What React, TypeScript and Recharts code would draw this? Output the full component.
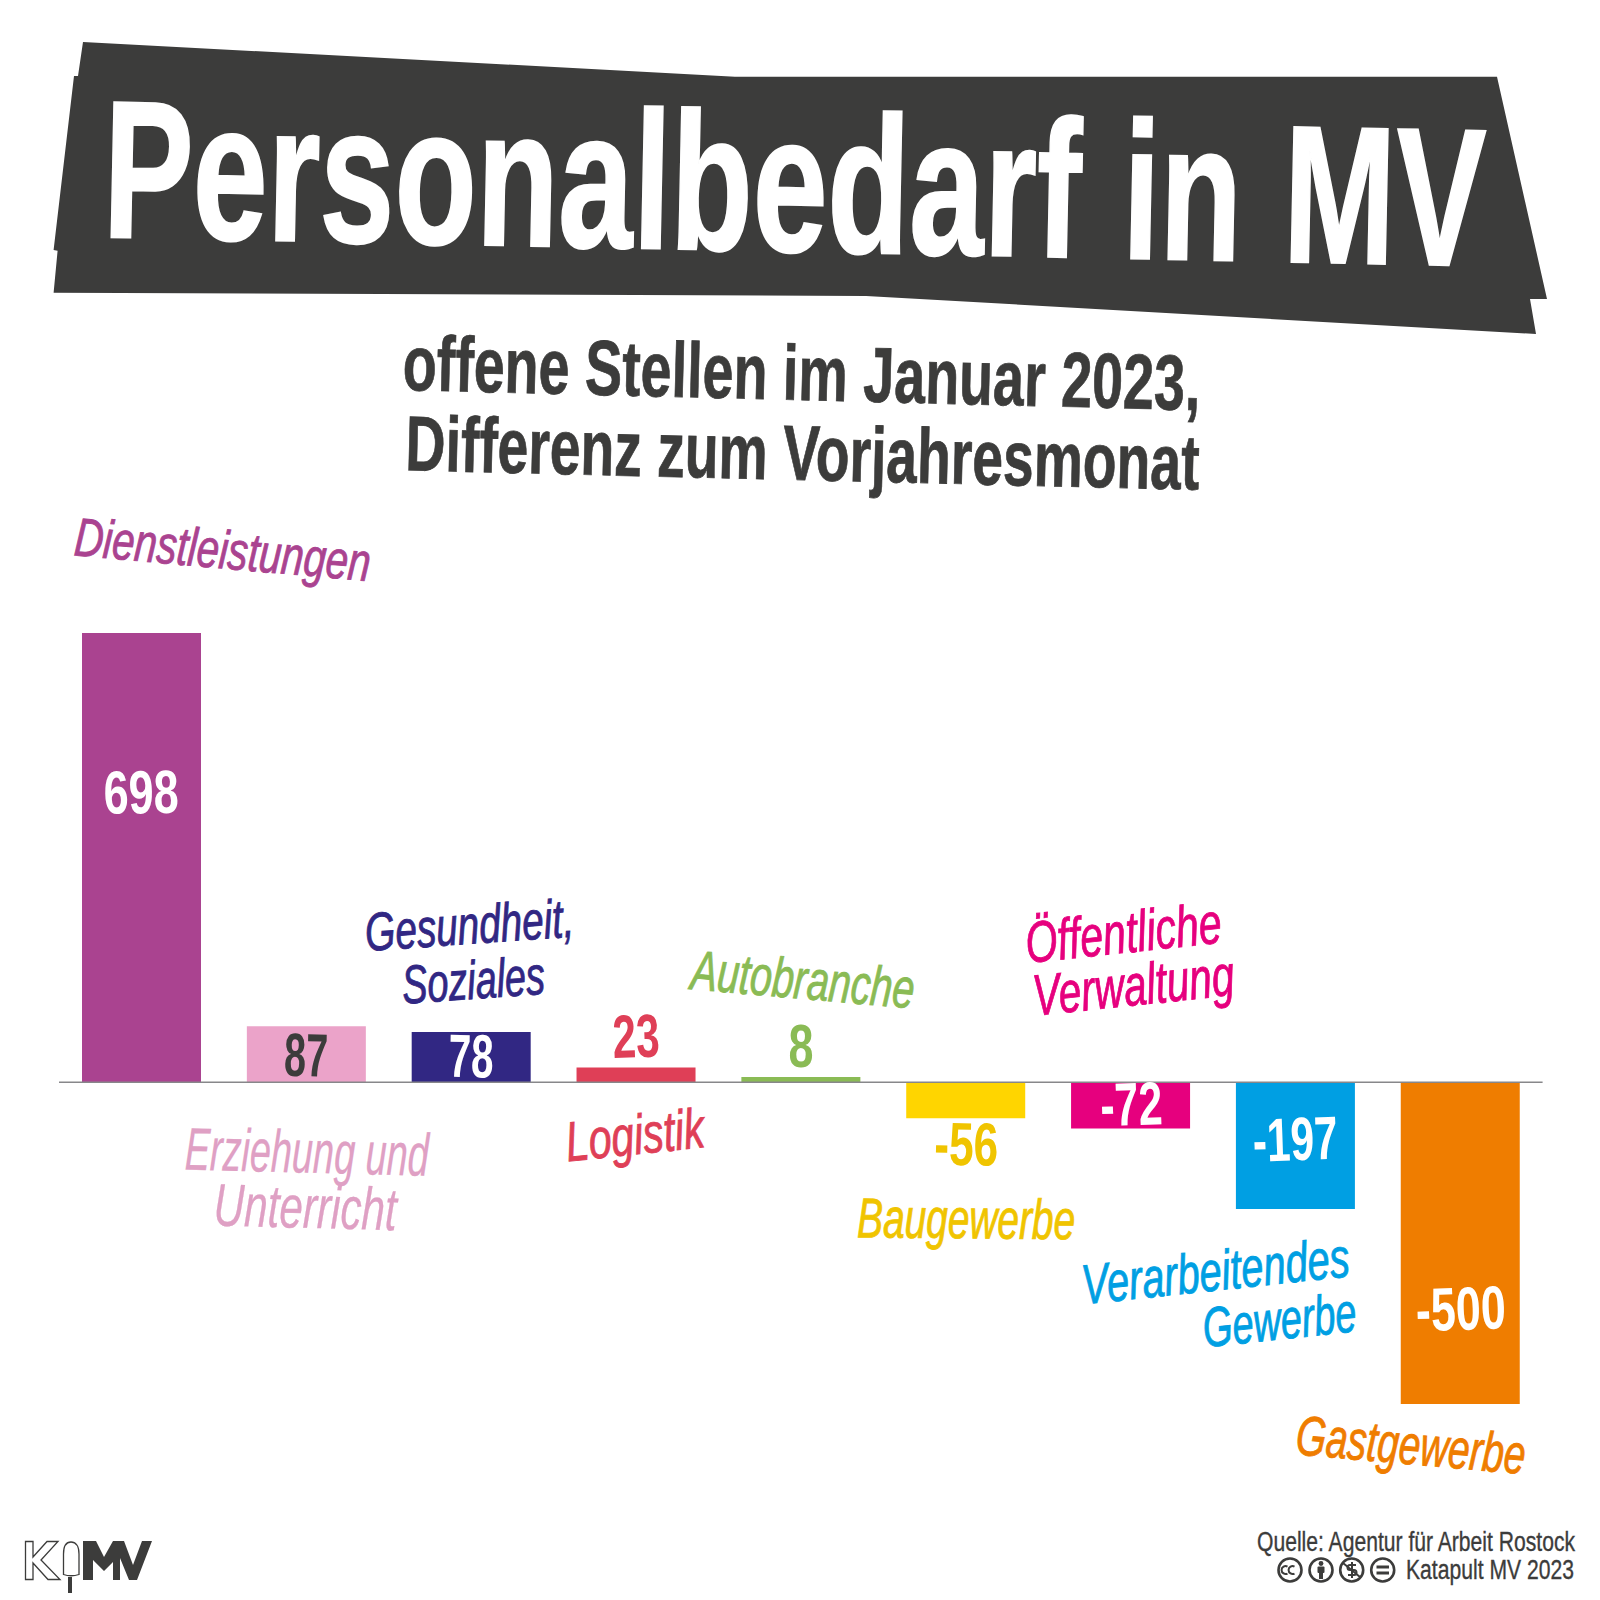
import React from "react";
import { BarChart, Bar, Cell, XAxis, YAxis, ReferenceLine, LabelList } from "recharts";

const categories = ["Dienstleistungen", "Erziehung und Unterricht", "Gesundheit, Soziales", "Logistik", "Autobranche", "Baugewerbe", "Öffentliche Verwaltung", "Verarbeitendes Gewerbe", "Gastgewerbe"];
const values = [698, 87, 78, 23, 8, -56, -72, -197, -500];
const labelLines = [["Dienstleistungen"], ["Erziehung und", "Unterricht"], ["Gesundheit,", "Soziales"], ["Logistik"], ["Autobranche"], ["Baugewerbe"], ["Öffentliche", "Verwaltung"], ["Verarbeitendes", "Gewerbe"], ["Gastgewerbe"]];
const barColors = ["#AA4390", "#EBA3C9", "#312783", "#DF3F57", "#8ABB55", "#FFD500", "#E6007E", "#009FE3", "#EF7D00"];
const labelColors = ["#AA4390", "#DFA0C4", "#312783", "#DF3F57", "#8ABB55", "#F0C400", "#E6007E", "#009FE3", "#EF7D00"];
const valueColors = ["#FFFFFF", "#3C3C3B", "#FFFFFF", "#DF3F57", "#8ABB55", "#F0C400", "#FFFFFF", "#FFFFFF", "#FFFFFF"];

const rows = categories.map((name, i) => ({ name, value: values[i] }));

const DARK = "#3C3C3B";
const FONT = "'Liberation Sans Narrow', 'Liberation Sans', sans-serif";

// [dx from bar centre, dy from zero line, drawn width, rotation] per text line
const labelLayout: number[][][] = [
  [[79.6, -514, 297, 5]],
  [[0, 90.5, 244, 1.5], [-1.6, 145.6, 183, 1.5]],
  [[-0.6, -138.5, 209, -4], [3.4, -83.5, 143, -4]],
  [[0.8, 72, 139, -6]],
  [[0.4, -83.5, 224, 5]],
  [[0.3, 156, 218, 0.5]],
  [[-5.2, -129.5, 197, -6], [5, -77, 202, -6]],
  [[-78, 208, 269, -6], [-14, 257, 154, -6]],
  [[-51, 382, 230, 5]],
];
const labelSizes = [54, 60, 54, 56, 56, 56, 58, 56, 56];
const valueLayout = [
  [0, -269, 75, -1], [-0.6, -6, 44, 1], [-0.5, -5, 45, 1], [0.7, -25, 47, -2], [0.2, -15, 25, 0],
  [0.2, 83, 64, 1], [1.5, 43, 62, -2], [0.5, 78, 85, -2], [1.2, 247.5, 90, -2],
];

function Tilt({ x, y, w, size, rot, fill, weight = 700, italic = false, stroke = 0, wordSpacing = 0, children }: any) {
  return (
    <text x={x} y={y} textAnchor="middle" fontFamily={FONT} fontSize={size} fontWeight={weight} fontStyle={italic ? "italic" : "normal"}
      wordSpacing={wordSpacing} fill={fill} stroke={stroke ? fill : "none"} strokeWidth={stroke} textLength={w} lengthAdjust="spacingAndGlyphs" transform={`rotate(${rot} ${x} ${y})`}>{children}</text>
  );
}

function BarLabels(props: any) {
  const { x, y, width, height, index } = props;
  const cx = x + width / 2;
  const zero = values[index] >= 0 ? Math.max(y, y + height) : Math.min(y, y + height);
  const [vdx, vdy, vw, vr] = valueLayout[index];
  return (
    <g>
      <Tilt x={cx + vdx} y={zero + vdy} w={vw} size={61} rot={vr} fill={valueColors[index]}>{String(values[index])}</Tilt>
      {labelLines[index].map((line, j) => {
        const [dx, dy, w, r] = labelLayout[index][j];
        return <Tilt key={line} x={cx + dx} y={zero + dy} w={w} size={labelSizes[index]} rot={r} fill={labelColors[index]} weight={400} italic stroke={index === 1 ? 0.3 : 0.9}>{line}</Tilt>;
      })}
    </g>
  );
}

function Overlay() {
  return (
    <svg width={1600} height={1600} style={{ position: "absolute", left: 0, top: 0, pointerEvents: "none" }}>
      <polygon fill={DARK} points="83,42 735,76.7 1497,76.7 1547,299 1530,299 1536,334 866,296 53.6,292.7 57.6,250.7 53.6,250 74,76 78,76" />
      <Tilt x={793} y={251.4} w={1382} size={196} rot={1.2} fill="#FFFFFF" stroke={2} wordSpacing={6}>Personalbedarf in MV</Tilt>
      <Tilt x={801} y={400} w={798} size={78} rot={1.45} fill={DARK} stroke={0.8}>offene Stellen im Januar 2023,</Tilt>
      <Tilt x={802} y={480} w={794} size={78} rot={1.4} fill={DARK} stroke={0.8}>Differenz zum Vorjahresmonat</Tilt>
      <Tilt x={1416} y={1550.7} w={318} size={27} rot={0} fill={DARK} weight={400} stroke={0.35}>Quelle: Agentur für Arbeit Rostock</Tilt>
      <Tilt x={1490} y={1579} w={168} size={27} rot={0} fill={DARK} weight={400} stroke={0.35}>Katapult MV 2023</Tilt>
      <g fill="none" stroke={DARK} strokeWidth={2.6}>
        <circle cx={1290} cy={1570} r={11.5} />
        <circle cx={1321} cy={1570} r={11.5} />
        <circle cx={1351.7} cy={1570} r={11.5} />
        <circle cx={1382.7} cy={1570} r={11.5} />
        <path d="M1295 1566.5a4 4 0 1 0 0 7M1288 1566.5a4 4 0 1 0 0 7" transform="translate(-0.5 0)" strokeWidth={2} />
        <path d="M1343 1563l17 14" strokeWidth={2} />
        <path d="M1356 1565h-6a2.5 2.5 0 0 0 0 5h4a2.5 2.5 0 0 1 0 5h-6M1352 1562v16" strokeWidth={2} />
      </g>
      <g fill={DARK}>
        <circle cx={1321} cy={1563.5} r={2.4} />
        <rect x={1317.5} y={1566.5} width={7} height={6.5} rx={1} />
        <rect x={1319} y={1573} width={4} height={6} />
        <rect x={1376.5} y={1565.5} width={12.5} height={3} />
        <rect x={1376.5} y={1571.5} width={12.5} height={3} />
      </g>
      <g stroke={DARK} strokeWidth={1.3} fill="none">
        <polygon points="25.5,1541.5 33,1541.5 33,1557 47,1541.5 58,1541.5 41,1560 60,1579.5 48,1579.5 33,1563 33,1579.5 25.5,1579.5" />
        <path d="M63.5 1574.5V1554c0-8 3-12 7.5-12s8 4 8 12v20.5q-8 2.5-15.5 0z" />
      </g>
      <rect x={68} y={1577} width={4} height={16} fill={DARK} />
      <polygon fill={DARK} points="83,1541 96,1541 104,1557 113,1541 124,1541 133,1565 142,1541 152,1541 137,1580 129,1580 120,1558 120,1580 113,1580 113,1562 104,1571 93,1560 93,1580 83,1580" />
    </svg>
  );
}

export default function App() {
  return (
    <div style={{ position: "absolute", left: 0, top: 0, width: 1600, height: 1600, background: "#fff" }}>
      <BarChart width={1600} height={1600} data={rows} margin={{ top: 633, right: 57.4, bottom: 196, left: 59 }}>
        <XAxis dataKey="name" hide />
        <YAxis domain={[-500, 698]} hide allowDataOverflow />
        <Bar dataKey="value" barSize={119} isAnimationActive={false}>
          {rows.map((r, i) => <Cell key={r.name} fill={barColors[i]} />)}
          <LabelList dataKey="value" content={BarLabels} />
        </Bar>
        <ReferenceLine y={0} stroke="#87878A" strokeWidth={1.5} />
      </BarChart>
      <Overlay />
    </div>
  );
}
